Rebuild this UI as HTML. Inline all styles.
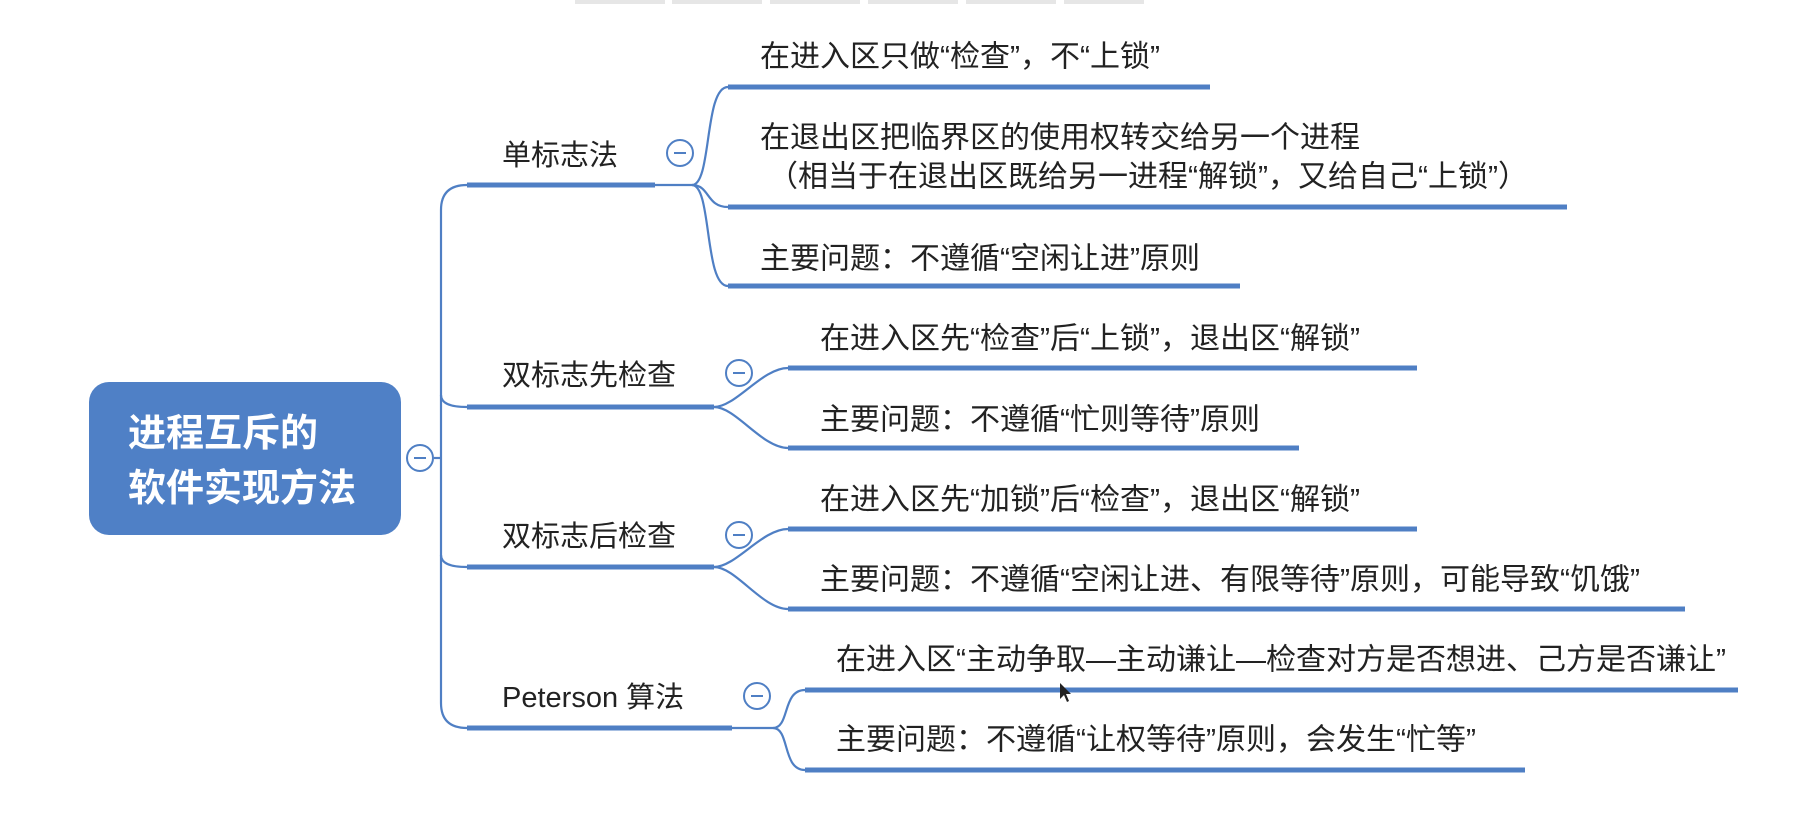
<!DOCTYPE html>
<html><head><meta charset="utf-8"><style>
html,body{margin:0;padding:0;background:#fff;}
svg text{font-family:"Liberation Sans","Noto Sans CJK SC",sans-serif;}
</style></head><body>
<svg width="1803" height="810" viewBox="0 0 1803 810" xmlns="http://www.w3.org/2000/svg">
<rect x="575" y="0" width="90" height="4" fill="#e6e6e6"/>
<rect x="672" y="0" width="90" height="4" fill="#e6e6e6"/>
<rect x="770" y="0" width="90" height="4" fill="#e6e6e6"/>
<rect x="868" y="0" width="90" height="4" fill="#e6e6e6"/>
<rect x="966" y="0" width="90" height="4" fill="#e6e6e6"/>
<rect x="1064" y="0" width="80" height="4" fill="#e6e6e6"/>

<g fill="none" stroke="#4f7fc4" stroke-width="2.2">
<line x1="434" y1="458" x2="441" y2="458"/>
<path d="M467,185 Q441,185 441,210 L441,703 Q441,728 467,728"/>
<path d="M441,395 Q441,407 467,407"/>
<path d="M441,555 Q441,567 467,567"/>
<line x1="655" y1="185" x2="692" y2="185"/>
<line x1="732" y1="728" x2="773" y2="728"/>
<path d="M692,185 C712,185 704,87 728,87"/>
<path d="M692,185 C710,185 706,207 728,207"/>
<path d="M692,185 C712,185 704,286 728,286"/>
<path d="M714,407 C736,407 762,368 788,368"/>
<path d="M714,407 C736,407 762,448 788,448"/>
<path d="M714,567 C736,567 762,529 788,529"/>
<path d="M714,567 C736,567 762,609 788,609"/>
<path d="M773,728 C790,728 782,690 805,690"/>
<path d="M773,728 C790,728 782,770 805,770"/>
</g>

<g stroke="#4f7fc4" stroke-width="5" stroke-linecap="butt">
<line x1="467" y1="185" x2="655" y2="185"/>
<line x1="467" y1="407" x2="714" y2="407"/>
<line x1="467" y1="567" x2="714" y2="567"/>
<line x1="467" y1="728" x2="732" y2="728"/>
<line x1="728" y1="87" x2="1210" y2="87"/>
<line x1="728" y1="207" x2="1567" y2="207"/>
<line x1="728" y1="286" x2="1240" y2="286"/>
<line x1="788" y1="368" x2="1417" y2="368"/>
<line x1="788" y1="448" x2="1299" y2="448"/>
<line x1="788" y1="529" x2="1417" y2="529"/>
<line x1="788" y1="609" x2="1685" y2="609"/>
<line x1="805" y1="690" x2="1738" y2="690"/>
<line x1="805" y1="770" x2="1525" y2="770"/>
</g>

<rect x="89" y="382" width="312" height="153" rx="20" fill="#4f80c6"/>
<text x="128" y="434" font-size="38" font-weight="bold" fill="#fff" dominant-baseline="central">进程互斥的</text>
<text x="128" y="489" font-size="38" font-weight="bold" fill="#fff" dominant-baseline="central">软件实现方法</text>

<g fill="#fff" stroke="#4f7fc4" stroke-width="2">
<circle cx="420" cy="458" r="13"/>
<circle cx="680" cy="153" r="13"/>
<circle cx="739" cy="373" r="13"/>
<circle cx="739" cy="535" r="13"/>
<circle cx="757" cy="696" r="13"/>
</g>
<g stroke="#4f7fc4" stroke-width="2">
<line x1="414" y1="458" x2="426" y2="458"/>
<line x1="674" y1="153" x2="686" y2="153"/>
<line x1="733" y1="373" x2="745" y2="373"/>
<line x1="733" y1="535" x2="745" y2="535"/>
<line x1="751" y1="696" x2="763" y2="696"/>
</g>

<g font-size="29" fill="#222" dominant-baseline="central">
<text x="502" y="156">单标志法</text>
<text x="502" y="376">双标志先检查</text>
<text x="502" y="537">双标志后检查</text>
<text x="502" y="698">Peterson 算法</text>
</g>
<g font-size="30" fill="#222" dominant-baseline="central">
<text x="760" y="57">在进入区只做“检查”，不“上锁”</text>
<text x="760" y="138">在退出区把临界区的使用权转交给另一个进程</text>
<text x="768" y="177">（相当于在退出区既给另一进程“解锁”，又给自己“上锁”）</text>
<text x="760" y="259">主要问题：不遵循“空闲让进”原则</text>
<text x="820" y="339">在进入区先“检查”后“上锁”，退出区“解锁”</text>
<text x="820" y="420">主要问题：不遵循“忙则等待”原则</text>
<text x="820" y="500">在进入区先“加锁”后“检查”，退出区“解锁”</text>
<text x="820" y="580">主要问题：不遵循“空闲让进、有限等待”原则，可能导致“饥饿”</text>
<text x="836" y="660">在进入区“主动争取—主动谦让—检查对方是否想进、己方是否谦让”</text>
<text x="836" y="740">主要问题：不遵循“让权等待”原则，会发生“忙等”</text>
</g>
<path d="M1060,683 l0,16 l4,-4 l3,7 l2,-1 l-3,-7 l5,0 z" fill="#222"/>
</svg>
</body></html>
